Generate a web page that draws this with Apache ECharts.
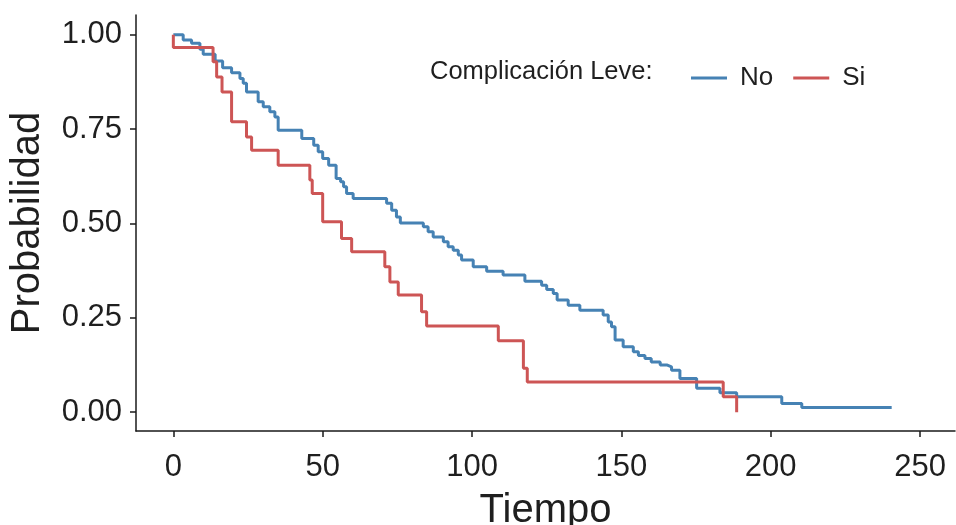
<!DOCTYPE html>
<html>
<head>
<meta charset="utf-8">
<script src="https://cdn.jsdelivr.net/npm/echarts@6/dist/echarts.min.js"></script>
<style>
html,body{margin:0;padding:0;background:#fff;}
#chart{width:956px;height:525px;}
</style>
</head>
<body>
<div id="chart"></div>
<script>
// Kaplan-Meier curves (time, survival)
const noTime = [0, 3.3, 6.1, 8.9, 10.0, 14.0, 16.5, 19.5, 22.3, 23.4, 24.5, 28.4, 30.1, 32.3, 34.0, 35.1, 43.0, 47.0, 48.5, 50.0, 52.0, 54.5, 56.0, 57.0, 58.0, 60.2, 71.4, 73.1, 74.7, 76.0, 83.7, 85.3, 87.0, 90.4, 92.0, 93.7, 95.4, 96.5, 100.4, 104.9, 110.4, 117.7, 123.3, 125.0, 127.2, 128.5, 132.2, 136.1, 143.9, 145.6, 146.7, 147.9, 150.6, 154.0, 155.7, 157.9, 160.0, 163.0, 165.2, 166.8, 169.6, 175.2, 183.0, 188.6, 203.7, 210.4, 240.5];
const noSurv = [1.000, 0.986, 0.977, 0.961, 0.948, 0.930, 0.912, 0.899, 0.884, 0.871, 0.848, 0.822, 0.809, 0.796, 0.782, 0.747, 0.725, 0.707, 0.690, 0.672, 0.654, 0.619, 0.610, 0.597, 0.579, 0.566, 0.553, 0.535, 0.517, 0.501, 0.491, 0.478, 0.464, 0.451, 0.438, 0.429, 0.416, 0.403, 0.385, 0.373, 0.363, 0.347, 0.336, 0.325, 0.314, 0.297, 0.283, 0.270, 0.257, 0.239, 0.226, 0.191, 0.173, 0.160, 0.150, 0.142, 0.133, 0.125, 0.120, 0.111, 0.089, 0.063, 0.051, 0.041, 0.023, 0.012, 0.012];
const siTime = [0, 0, 13.3, 14.5, 16.3, 19.5, 24.5, 26.2, 35.1, 45.7, 46.5, 50.0, 56.3, 59.7, 70.8, 72.5, 75.3, 83.1, 84.8, 108.8, 117.2, 118.5, 184.1, 188.6];
const siSurv = [1.000, 0.966, 0.928, 0.888, 0.848, 0.769, 0.729, 0.694, 0.654, 0.615, 0.579, 0.504, 0.460, 0.425, 0.385, 0.345, 0.310, 0.266, 0.228, 0.189, 0.116, 0.080, 0.041, 0.000];

const xTicks = [0, 50, 100, 150, 200, 250];
const yTicks = [0, 0.25, 0.5, 0.75, 1];
const groupNames = ['No', 'Si'];
const legendTitle = 'Complicación Leve:';
const xTitle = 'Tiempo';
const yTitle = 'Probabilidad';

const FONT = 'Liberation Sans, Arial, sans-serif';
const AXIS_COLOR = '#1a1a1a';
const TEXT_COLOR = '#1f1f1f';

const chart = echarts.init(document.getElementById('chart'), null, {renderer: 'canvas'});
chart.setOption({
  backgroundColor: '#ffffff',
  animation: false,
  grid: {left: 136, right: 1, top: 15, bottom: 94, containLabel: false, outerBoundsMode: 'none'},
  graphic: [{
    type: 'text',
    left: 430, top: 59,
    style: {text: legendTitle, font: '25.5px ' + FONT, fill: TEXT_COLOR}
  }],
  legend: {
    data: groupNames,
    left: 686, top: 60,
    icon: 'rect',
    itemWidth: 36, itemHeight: 3,
    itemGap: 20,
    textStyle: {fontFamily: FONT, fontSize: 26, color: TEXT_COLOR, padding: [0, 0, 0, 8]}
  },
  xAxis: {
    type: 'value',
    min: -12.5, max: 261.7,
    name: xTitle, nameLocation: 'middle', nameGap: 60,
    nameTextStyle: {fontFamily: FONT, fontSize: 40, color: TEXT_COLOR},
    splitLine: {show: false},
    axisLine: {show: true, onZero: false, lineStyle: {color: AXIS_COLOR, width: 1.5}},
    axisTick: {show: true, length: 6, customValues: xTicks, lineStyle: {color: AXIS_COLOR, width: 1.5}},
    axisLabel: {customValues: xTicks, margin: 21, fontFamily: FONT, fontSize: 31, color: TEXT_COLOR}
  },
  yAxis: {
    type: 'value',
    min: -0.05, max: 1.052,
    name: yTitle, nameLocation: 'middle', nameGap: 88, nameRotate: 90,
    nameTextStyle: {fontFamily: FONT, fontSize: 40, color: TEXT_COLOR},
    splitLine: {show: false},
    axisLine: {show: true, onZero: false, lineStyle: {color: AXIS_COLOR, width: 1.5}},
    axisTick: {show: true, length: 6, customValues: yTicks, lineStyle: {color: AXIS_COLOR, width: 1.5}},
    axisLabel: {customValues: yTicks, margin: 14, fontFamily: FONT, fontSize: 31, color: TEXT_COLOR,
      formatter: v => v.toFixed(2)}
  },
  series: [
    {name: groupNames[0], type: 'line', step: 'end', symbol: 'none', color: '#4682B4',
     lineStyle: {width: 3, color: '#4682B4'},
     data: noTime.map((t, i) => [t, noSurv[i]])},
    {name: groupNames[1], type: 'line', step: 'end', symbol: 'none', color: '#CD5555',
     lineStyle: {width: 3, color: '#CD5555'},
     data: siTime.map((t, i) => [t, siSurv[i]])}
  ]
});
</script>
</body>
</html>
